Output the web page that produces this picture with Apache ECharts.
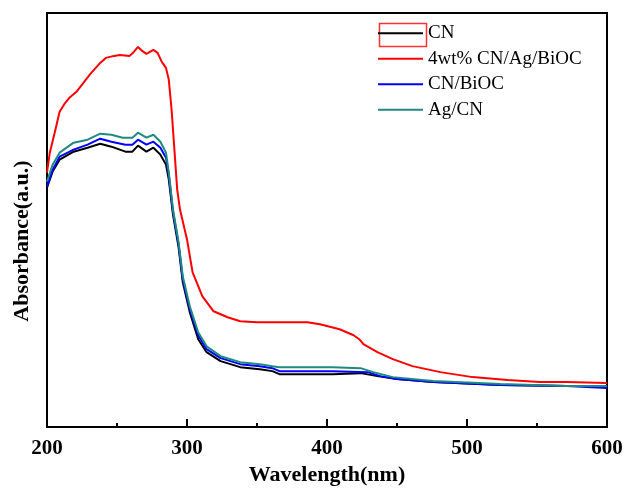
<!DOCTYPE html>
<html>
<head>
<meta charset="utf-8">
<script src="https://cdn.jsdelivr.net/npm/echarts@6/dist/echarts.min.js"></script>
<style>
  html, body { margin: 0; padding: 0; background: #fff; }
  #chart { width: 627px; height: 488px; }
</style>
</head>
<body>
<div id="chart"></div>
<script>
// wavelength (nm) / absorbance (a.u.)
const cnWl = [200, 204, 209, 219, 229, 238, 246, 256, 261, 265, 271, 276, 281, 285, 287, 290, 294, 297, 302, 308, 314, 324, 338, 352, 361, 366, 404, 424, 436, 450, 476, 524, 571, 600];
const cnAbs = [2.40, 2.56, 2.68, 2.76, 2.80, 2.84, 2.81, 2.76, 2.76, 2.82, 2.76, 2.80, 2.73, 2.63, 2.48, 2.13, 1.80, 1.45, 1.15, 0.88, 0.75, 0.66, 0.60, 0.58, 0.56, 0.53, 0.53, 0.54, 0.51, 0.48, 0.45, 0.42, 0.41, 0.41];

const cagWl = [200, 202, 206, 209, 213, 216, 221, 226, 231, 238, 242, 248, 252, 259, 262, 265, 268, 271, 276, 279, 282, 285, 287, 289, 291, 293, 295, 300, 304, 311, 319, 329, 338, 350, 361, 374, 386, 395, 409, 419, 423, 426, 436, 447, 461, 481, 504, 529, 552, 571, 600];
const cagAbs = [2.55, 2.75, 2.98, 3.16, 3.25, 3.30, 3.36, 3.45, 3.54, 3.65, 3.70, 3.72, 3.73, 3.72, 3.76, 3.81, 3.77, 3.74, 3.78, 3.75, 3.66, 3.60, 3.48, 3.18, 2.78, 2.38, 2.18, 1.88, 1.55, 1.31, 1.16, 1.10, 1.06, 1.05, 1.05, 1.05, 1.05, 1.03, 0.98, 0.92, 0.88, 0.83, 0.75, 0.68, 0.61, 0.55, 0.50, 0.47, 0.45, 0.45, 0.44];

const cbWl = [200, 204, 209, 219, 229, 238, 246, 256, 261, 265, 271, 276, 281, 285, 287, 290, 294, 297, 302, 308, 314, 324, 338, 352, 361, 366, 404, 429, 438, 450, 476, 524, 571, 600];
const cbAbs = [2.41, 2.58, 2.71, 2.78, 2.83, 2.89, 2.86, 2.83, 2.83, 2.88, 2.83, 2.86, 2.80, 2.70, 2.53, 2.16, 1.83, 1.48, 1.18, 0.92, 0.78, 0.69, 0.63, 0.61, 0.59, 0.56, 0.56, 0.55, 0.51, 0.48, 0.45, 0.42, 0.41, 0.39];

const agWl = [200, 204, 209, 219, 229, 238, 246, 254, 261, 265, 271, 276, 281, 285, 287, 290, 294, 297, 302, 308, 314, 324, 338, 352, 361, 366, 404, 424, 433, 447, 476, 524, 571, 600];
const agAbs = [2.46, 2.63, 2.75, 2.85, 2.88, 2.94, 2.93, 2.90, 2.90, 2.95, 2.90, 2.93, 2.86, 2.75, 2.55, 2.18, 1.85, 1.51, 1.21, 0.95, 0.81, 0.71, 0.65, 0.63, 0.61, 0.60, 0.60, 0.59, 0.55, 0.50, 0.46, 0.43, 0.41, 0.41];

const seriesNames = ['CN', '4wt% CN/Ag/BiOC', 'CN/BiOC', 'Ag/CN'];
const seriesColors = ['#000000', '#ff0000', '#0000ff', '#1f8a80'];

const pairs = (xs, ys) => xs.map((x, i) => [x, ys[i]]);
const allData = [pairs(cnWl, cnAbs), pairs(cagWl, cagAbs), pairs(cbWl, cbAbs), pairs(agWl, agAbs)];

const serif = '"Liberation Serif", "Times New Roman", serif';

const chart = echarts.init(document.getElementById('chart'));

chart.setOption({
  animation: false,
  backgroundColor: '#fff',
  grid: {
    left: 47,
    right: 20,
    top: 13,
    bottom: 61,
    containLabel: false,
    outerBoundsMode: 'none',
    show: true,
    borderColor: '#000',
    borderWidth: 2
  },
  legend: {
    orient: 'vertical',
    left: 378,
    top: 23,
    padding: 0,
    icon: 'rect',
    itemWidth: 45,
    itemHeight: 2,
    itemGap: 5,
    data: seriesNames,
    textStyle: {
      fontFamily: serif,
      fontSize: 19,
      color: '#000',
      lineHeight: 20.5
    }
  },
  xAxis: {
    type: 'value',
    min: 200,
    max: 600,
    interval: 100,
    name: 'Wavelength(nm)',
    nameLocation: 'middle',
    nameGap: 37,
    nameTextStyle: {
      fontFamily: serif,
      fontSize: 22,
      fontWeight: 'bold',
      color: '#000'
    },
    axisLine: { lineStyle: { color: '#000', width: 2 } },
    axisTick: { inside: true, length: 8, lineStyle: { color: '#000', width: 2 } },
    minorTick: { show: true, splitNumber: 2, length: 4, lineStyle: { color: '#000', width: 2 } },
    axisLabel: {
      margin: 11,
      fontFamily: serif,
      fontSize: 21,
      fontWeight: 'bold',
      color: '#000'
    },
    splitLine: { show: false }
  },
  yAxis: {
    type: 'value',
    min: 0,
    max: 4.15,
    name: 'Absorbance(a.u.)',
    nameLocation: 'middle',
    nameGap: 14,
    nameTextStyle: {
      fontFamily: serif,
      fontSize: 22,
      fontWeight: 'bold',
      color: '#000',
      padding: [0, 42, 0, 0]
    },
    axisLine: { show: true, lineStyle: { color: '#000', width: 2 } },
    axisTick: { show: false },
    axisLabel: { show: false },
    splitLine: { show: false }
  },
  series: seriesNames.map((name, i) => ({
    name: name,
    type: 'line',
    data: allData[i],
    symbol: 'none',
    color: seriesColors[i],
    lineStyle: { width: 2, color: seriesColors[i] }
  })),
  graphic: [
    {
      // red highlight box drawn around the first legend key in the original
      type: 'rect',
      left: 377,
      top: 21,
      shape: { width: 47, height: 23 },
      style: { fill: 'none', stroke: '#ff3030', lineWidth: 1.5 }
    }
  ]
});
</script>
</body>
</html>
